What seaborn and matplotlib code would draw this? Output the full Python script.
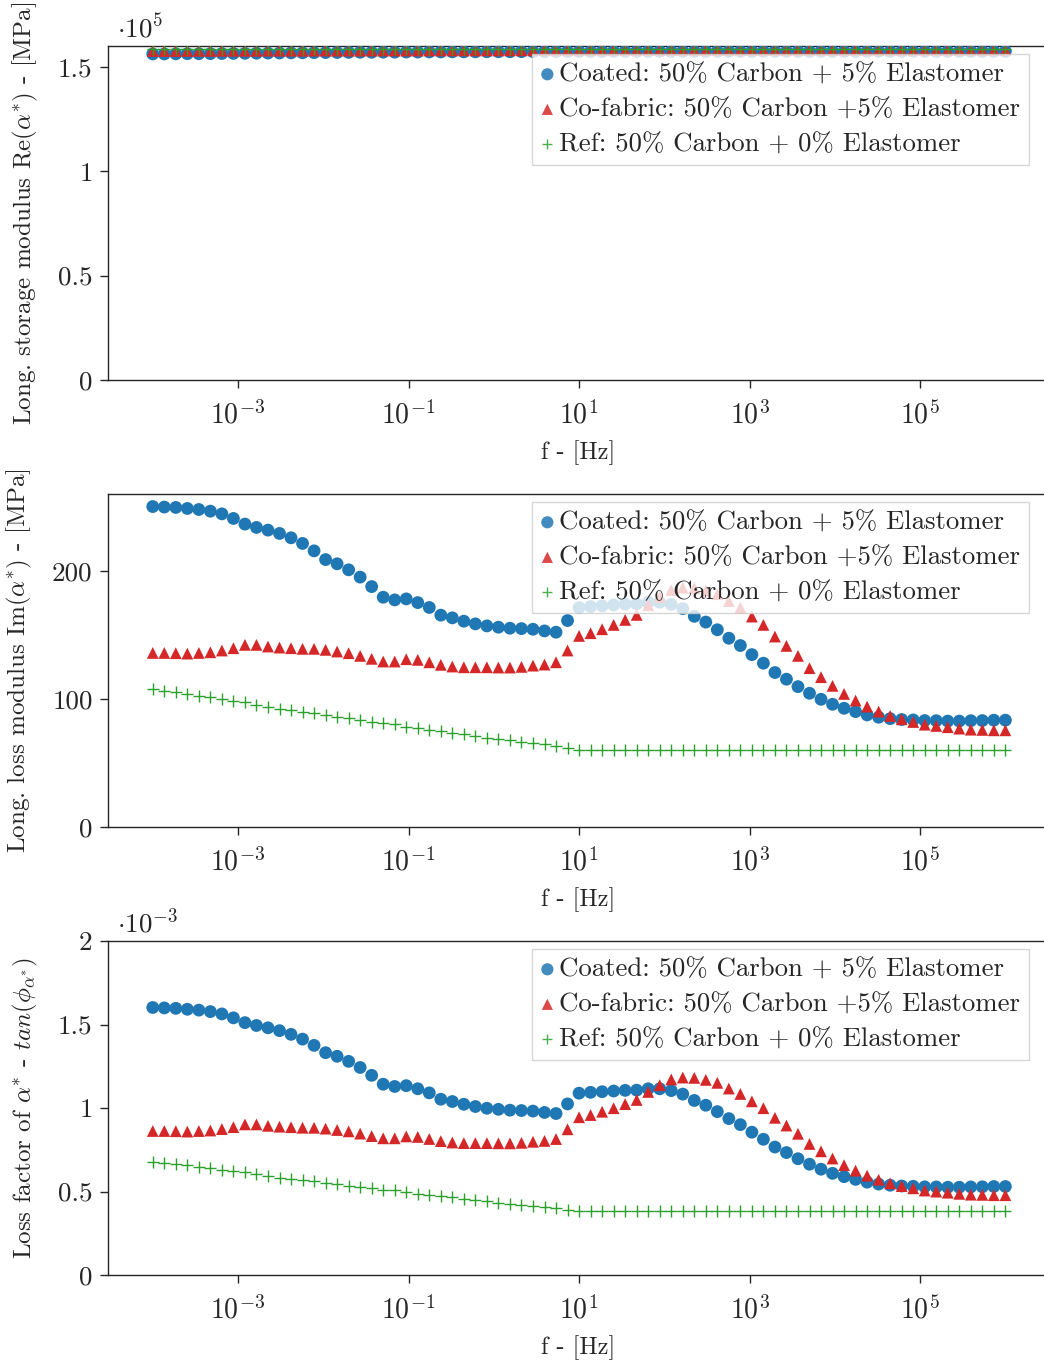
import numpy as np
import matplotlib
matplotlib.use("Agg")
import matplotlib.pyplot as plt
import seaborn as sns
from matplotlib.ticker import NullLocator, FixedLocator, FixedFormatter

# ---------------- data ----------------
freq = np.logspace(-4, 6, 75)  # measurement frequency grid [Hz]

labels = ["Coated: 50% Carbon + 5% Elastomer",
          "Co-fabric: 50% Carbon +5% Elastomer",
          "Ref: 50% Carbon + 0% Elastomer"]

re_coated = [156200, 156200, 156250, 156300, 156300, 156350, 156400, 156450, 156500, 156550,
             156600, 156650, 156700, 156750, 156800, 156850, 156900, 156950, 157000, 157000,
             157050, 157050, 157100, 157100, 157150, 157150, 157200, 157200, 157200, 157250,
             157250, 157250, 157300, 157300, 157300, 157300, 157350, 157350, 157350, 157350,
             157400, 157400, 157400, 157400, 157400, 157400, 157400, 157400, 157400, 157400,
             157400, 157400, 157400, 157400, 157400, 157400, 157400, 157400, 157400, 157400,
             157400, 157400, 157400, 157400, 157400, 157400, 157400, 157400, 157400, 157400,
             157400, 157400, 157400, 157400, 157400]
re_cofab = [157600, 157600, 157600, 157650, 157650, 157650, 157700, 157700, 157700, 157700,
            157750, 157750, 157750, 157750, 157800, 157800, 157800, 157800, 157800, 157850,
            157850, 157850, 157850, 157850, 157900, 157900, 157900, 157900, 157900, 157900,
            157900, 157950, 157950, 157950, 157950, 157950, 157950, 157950, 157950, 157950,
            158000, 158000, 158000, 158000, 158000, 158000, 158000, 158000, 158000, 158000,
            158000, 158000, 158000, 158000, 158000, 158000, 158000, 158000, 158000, 158000,
            158000, 158000, 158000, 158000, 158000, 158000, 158000, 158000, 158000, 158000,
            158000, 158000, 158000, 158000, 158000]
re_ref = [158400, 158400, 158400, 158400, 158400, 158400, 158400, 158400, 158400, 158400,
          158450, 158450, 158450, 158450, 158450, 158450, 158450, 158450, 158450, 158450,
          158450, 158450, 158450, 158450, 158450, 158500, 158500, 158500, 158500, 158500,
          158500, 158500, 158500, 158500, 158500, 158500, 158500, 158500, 158500, 158500,
          158500, 158500, 158500, 158500, 158500, 158500, 158500, 158500, 158500, 158500,
          158500, 158500, 158500, 158500, 158500, 158500, 158500, 158500, 158500, 158500,
          158500, 158500, 158500, 158500, 158500, 158500, 158500, 158500, 158500, 158500,
          158500, 158500, 158500, 158500, 158500]

im_coated = [250.2, 249.8, 249.5, 248.7, 247.9, 246.6, 244.5, 240.9, 236.5, 233.9,
             231.8, 229.2, 225.8, 221.4, 215.6, 208.8, 205.5, 200.8, 195.1, 187.7,
             179.4, 177.3, 178.1, 175.2, 171.4, 165.4, 163.3, 160.7, 158.6, 157.0,
             156.0, 155.2, 154.9, 154.4, 153.1, 152.1, 161.2, 171.3, 172.1, 172.7,
             173.4, 174.0, 174.2, 175.5, 175.5, 173.8, 170.5, 164.5, 160.0, 154.0,
             147.4, 141.7, 134.6, 127.9, 120.6, 115.4, 109.6, 104.4, 99.7, 95.8,
             92.7, 90.1, 87.5, 85.7, 84.6, 83.9, 83.6, 83.1, 83.0, 82.7,
             82.7, 83.0, 83.1, 83.4, 83.4]
im_cofab = [135.9, 135.9, 135.7, 135.4, 135.9, 136.4, 137.8, 139.6, 142.2, 142.2,
            140.9, 140.1, 139.6, 139.1, 139.1, 138.3, 137.0, 135.7, 133.6, 131.3,
            129.2, 129.2, 131.0, 130.5, 128.6, 126.6, 125.3, 124.7, 124.7, 124.7,
            124.5, 124.5, 125.0, 126.0, 126.8, 128.6, 137.8, 149.2, 151.3, 154.4,
            157.8, 161.7, 165.6, 173.2, 179.6, 185.0, 186.8, 186.5, 184.6, 181.8,
            176.4, 171.3, 164.3, 157.8, 148.7, 141.4, 133.6, 124.0, 117.0, 110.2,
            103.9, 98.7, 94.0, 90.1, 86.7, 84.1, 82.0, 79.9, 78.9, 77.9,
            76.8, 76.0, 75.8, 75.5, 75.5]
im_ref = [107.6, 106.5, 105.2, 103.9, 102.6, 101.3, 99.7, 98.4, 97.4, 95.6,
          94.0, 92.2, 91.4, 90.1, 88.8, 87.2, 86.2, 84.9, 83.6, 82.3,
          81.0, 80.2, 78.4, 77.3, 76.0, 75.3, 73.7, 72.4, 71.1, 69.8,
          68.8, 67.7, 66.6, 65.4, 64.5, 63.3, 61.6, 60.5, 60.5, 60.5,
          60.5, 60.5, 60.5, 60.5, 60.5, 60.5, 60.5, 60.5, 60.5, 60.5,
          60.5, 60.5, 60.5, 60.5, 60.5, 60.5, 60.5, 60.5, 60.5, 60.5,
          60.5, 60.5, 60.5, 60.5, 60.5, 60.5, 60.5, 60.5, 60.5, 60.5,
          60.5, 60.5, 60.5, 60.5, 60.5]

# loss factor tan(phi) = Im / Re
tan_coated = np.array(im_coated) / np.array(re_coated)
tan_cofab = np.array(im_cofab) / np.array(re_cofab)
tan_ref = np.array(im_ref) / np.array(re_ref)

xtick_vals = [1e-3, 1e-1, 1e1, 1e3, 1e5]
xtick_labels = [r"$10^{-3}$", r"$10^{-1}$", r"$10^{1}$", r"$10^{3}$", r"$10^{5}$"]

# ---------------- style ----------------
sns.set_style("ticks")
plt.rcParams.update({
    "font.family": "serif",
    "font.serif": ["cmr10", "DejaVu Serif"],
    "mathtext.fontset": "cm",
    "axes.unicode_minus": False,
    "axes.formatter.use_mathtext": True,
    "font.size": 19,
    "axes.edgecolor": "#262626",
    "axes.linewidth": 1.0,
    "xtick.color": "#262626",
    "ytick.color": "#262626",
    "xtick.major.size": 6,
    "ytick.major.size": 6,
    "xtick.major.width": 1.0,
    "ytick.major.width": 1.0,
})

colors = ["#1f77b4", "#d62728", "#2ca02c"]

W, H = 1044, 1365
fig = plt.figure(figsize=(W / 100, H / 100), dpi=100)

left_px, right_px = 108, 1048
panels_px = [(46, 380), (494, 827), (941, 1275)]


def make_ax(top, bottom):
    return fig.add_axes([left_px / W, 1 - bottom / H, (right_px - left_px) / W, (bottom - top) / H])


panel_data = [
    (re_coated, re_cofab, re_ref),
    (im_coated, im_cofab, im_ref),
    (tan_coated, tan_cofab, tan_ref),
]
ylabels = [r"Long. storage modulus Re($\alpha^{*}$) - [MPa]",
           r"Long. loss modulus Im($\alpha^{*}$) - [MPa]",
           r"Loss factor of $\alpha^{*}$ - $tan(\phi_{\alpha^{*}})$"]
ylims = [(0, 1.6e5), (0, 260), (0, 2e-3)]
yticks = [[0, 0.5e5, 1e5, 1.5e5], [0, 100, 200], [0, 0.5e-3, 1e-3, 1.5e-3, 2e-3]]
yticklabels = [["0", "0.5", "1", "1.5"], ["0", "100", "200"], ["0", "0.5", "1", "1.5", "2"]]
offsets = [r"$\cdot 10^{5}$", None, r"$\cdot 10^{-3}$"]

for k, (top, bottom) in enumerate(panels_px):
    ax = make_ax(top, bottom)
    d1, d2, d3 = panel_data[k]
    sns.scatterplot(x=freq, y=d1, ax=ax, marker="o", s=85, color=colors[0],
                    edgecolor="none", label=labels[0], zorder=3)
    sns.scatterplot(x=freq, y=d2, ax=ax, marker="^", s=72, color=colors[1],
                    edgecolor="none", label=labels[1], zorder=3)
    sns.scatterplot(x=freq, y=d3, ax=ax, marker="+", s=65, color=colors[2],
                    linewidth=1.0, label=labels[2], zorder=3)
    ax.set_xscale("log")
    ax.set_xlim(10 ** -4.525, 10 ** 6.5)
    ax.set_ylim(*ylims[k])
    ax.xaxis.set_major_locator(FixedLocator(xtick_vals))
    ax.xaxis.set_major_formatter(FixedFormatter(xtick_labels))
    ax.xaxis.set_minor_locator(NullLocator())
    ax.yaxis.set_major_locator(FixedLocator(yticks[k]))
    ax.yaxis.set_major_formatter(FixedFormatter(yticklabels[k]))
    ax.yaxis.set_minor_locator(NullLocator())
    ax.tick_params(axis="x", labelsize=20, pad=9)
    ax.tick_params(axis="y", labelsize=19.5, pad=5)
    ax.set_xlabel("f - [Hz]", fontsize=17.5, labelpad=8)
    ax.set_ylabel(ylabels[k], fontsize=18, labelpad=13)
    for sp in ax.spines.values():
        sp.set_visible(True)
    if offsets[k]:
        ax.text(0.01, 1.012, offsets[k], transform=ax.transAxes, fontsize=19.5,
                ha="left", va="bottom")
    leg = ax.legend(loc="upper right",
                    bbox_to_anchor=((1029 - left_px) / (right_px - left_px), 1 - 8 / (bottom - top)),
                    borderaxespad=0, fontsize=19.3, frameon=True, fancybox=False,
                    framealpha=0.8, edgecolor="#cccccc", handlelength=0.5,
                    handletextpad=0.2, borderpad=0.32, labelspacing=0.42,
                    markerscale=0.95)
    for h in leg.legend_handles:
        h.set_alpha(0.85)
    leg.get_frame().set_linewidth(1.0)

fig.savefig("out.png", dpi=100)
